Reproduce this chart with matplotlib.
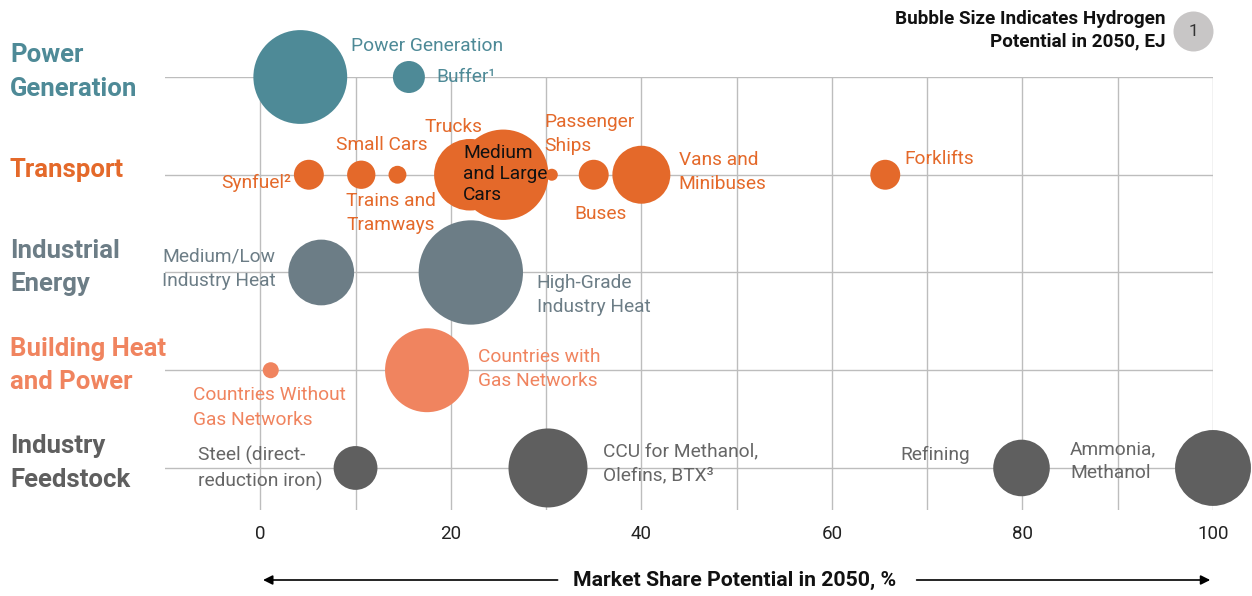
import numpy as np
import matplotlib.pyplot as plt
from matplotlib.transforms import blended_transform_factory

plt.rcParams['font.family'] = ['Roboto', 'DejaVu Sans']

# categories (row 4 at the top, 0 at the bottom)
sectors = ['Power\nGeneration', 'Transport', 'Industrial\nEnergy', 'Building Heat\nand Power', 'Industry\nFeedstock']
sector_rows = [4, 3, 2, 1, 0]
sector_colors = ['#4E8A97', '#E4692A', '#6C7D86', '#F0845F', '#5F5F5F']

# bubbles: market share 2050 (%), hydrogen potential 2050 (EJ)
power_share = [4.2, 15.6]
power_ej = [5.5, 0.64]
transport_share = [5.1, 10.6, 14.4, 22.0, 25.5, 30.6, 35.0, 40.0, 65.6]
transport_ej = [0.56, 0.5, 0.2, 3.2, 5.1, 0.09, 0.56, 2.1, 0.56]
energy_share = [6.4, 22.1]
energy_ej = [2.7, 6.8]
building_share = [1.1, 17.5]
building_ej = [0.16, 4.4]
feedstock_share = [10.0, 30.2, 79.9, 100.0]
feedstock_ej = [1.2, 3.9, 2.0, 3.6]

shares = [power_share, transport_share, energy_share, building_share, feedstock_share]
ejs = [power_ej, transport_ej, energy_ej, building_ej, feedstock_ej]

# labels: (text, x, y, ha, colour index)
labels = [
    ('Power Generation', 9.5, 4.32, 'left', 0),
    ('Buffer\u00b9', 18.5, 4.0, 'left', 0),
    ('Synfuel\u00b2', 3.2, 2.92, 'right', 1),
    ('Small Cars', 8.0, 3.30, 'left', 1),
    ('Trains and\nTramways', 9.0, 2.61, 'left', 1),
    ('Trucks', 17.2, 3.49, 'left', 1),
    ('Passenger\nShips', 29.8, 3.42, 'left', 1),
    ('Buses', 33.0, 2.60, 'left', 1),
    ('Vans and\nMinibuses', 43.9, 3.03, 'left', 1),
    ('Forklifts', 67.6, 3.16, 'left', 1),
    ('Medium/Low\nIndustry Heat', -10.3, 2.04, 'left', 2),
    ('High-Grade\nIndustry Heat', 29.0, 1.77, 'left', 2),
    ('Countries with\nGas Networks', 22.9, 1.01, 'left', 3),
    ('Countries Without\nGas Networks', -7.1, 0.62, 'left', 3),
    ('Steel (direct-\nreduction iron)', -6.5, 0.0, 'left', 4),
    ('CCU for Methanol,\nOlefins, BTX\u00b3', 36.0, 0.05, 'left', 4),
    ('Refining', 67.2, 0.13, 'left', 4),
    ('Ammonia,\nMethanol', 85.0, 0.07, 'left', 4),
]

xticks = [0, 20, 40, 60, 80, 100]

fig = plt.figure(figsize=(12.52, 5.96), dpi=100)
ax = fig.add_axes([165/1252, 86/596, 1048/1252, 433/596])
ax.set_xlim(-10, 100)
ax.set_ylim(-0.43, 4)
for s in ax.spines.values():
    s.set_visible(False)
ax.set_yticks([])
ax.set_xticks(xticks)
ax.tick_params(axis='x', length=0, pad=11, labelsize=13.5, labelcolor='#222222')

# grid
grid_c = '#BDBDBD'
for gx in range(0, 101, 10):
    ax.plot([gx, gx], [-0.43, 4], color=grid_c, lw=1, zorder=0)
for gy in sector_rows:
    ax.plot([-10, 100], [gy, gy], color=grid_c, lw=1, zorder=0)

# bubble area proportional to EJ; 1 EJ -> 20 px radius
k = (2*20*0.72)**2
for row, sx, e, c in zip(sector_rows, shares, ejs, sector_colors):
    ax.scatter(sx, [row]*len(sx), s=np.array(e)*k, color=c, linewidths=0,
               zorder=2, clip_on=False)

for txt, x, y, ha, ci in labels:
    col = sector_colors[ci]
    if ci == 4:
        col = '#666666'
    ax.text(x, y, txt, ha=ha, va='center', fontsize=13.8, color=col,
            linespacing=1.45, zorder=3)
ax.text(21.3, 3.01, 'Medium\nand Large\nCars', ha='left', va='center', fontsize=13.8,
        color='#111111', linespacing=1.2, zorder=3)

# sector names on the left
tr = blended_transform_factory(fig.transFigure, ax.transData)
for name, row, c in zip(sectors, sector_rows, sector_colors):
    ax.text(10/1252, row + 0.05, name, transform=tr, ha='left', va='center',
            fontsize=18.5, fontweight='bold', color=c, linespacing=1.5)

# bubble size key
ax.scatter([97.9], [4.47], s=k, color='#C8C6C6', linewidths=0, clip_on=False, zorder=2)
ax.text(97.9, 4.47, '1', ha='center', va='center', fontsize=12.5, color='#333333', zorder=3)
ax.text(95.0, 4.475, 'Bubble Size Indicates Hydrogen\nPotential in 2050, EJ', ha='right',
        va='center', fontsize=13.6, fontweight='bold', color='#111111', linespacing=1.3)

# x axis title with arrows
trx = blended_transform_factory(ax.transData, fig.transFigure)
ya = 1 - 580/596
fig.text(735/1252, ya, 'Market Share Potential in 2050, %', ha='center', va='center',
         fontsize=15.3, fontweight='bold', color='#111111')
ax.annotate('', xy=(0, ya), xytext=(31.5, ya), xycoords=trx, textcoords=trx,
            arrowprops=dict(arrowstyle='-|>', color='black', lw=1.2, mutation_scale=14))
ax.annotate('', xy=(100, ya), xytext=(68.6, ya), xycoords=trx, textcoords=trx,
            arrowprops=dict(arrowstyle='-|>', color='black', lw=1.2, mutation_scale=14))

fig.savefig('out.png', dpi=100)
